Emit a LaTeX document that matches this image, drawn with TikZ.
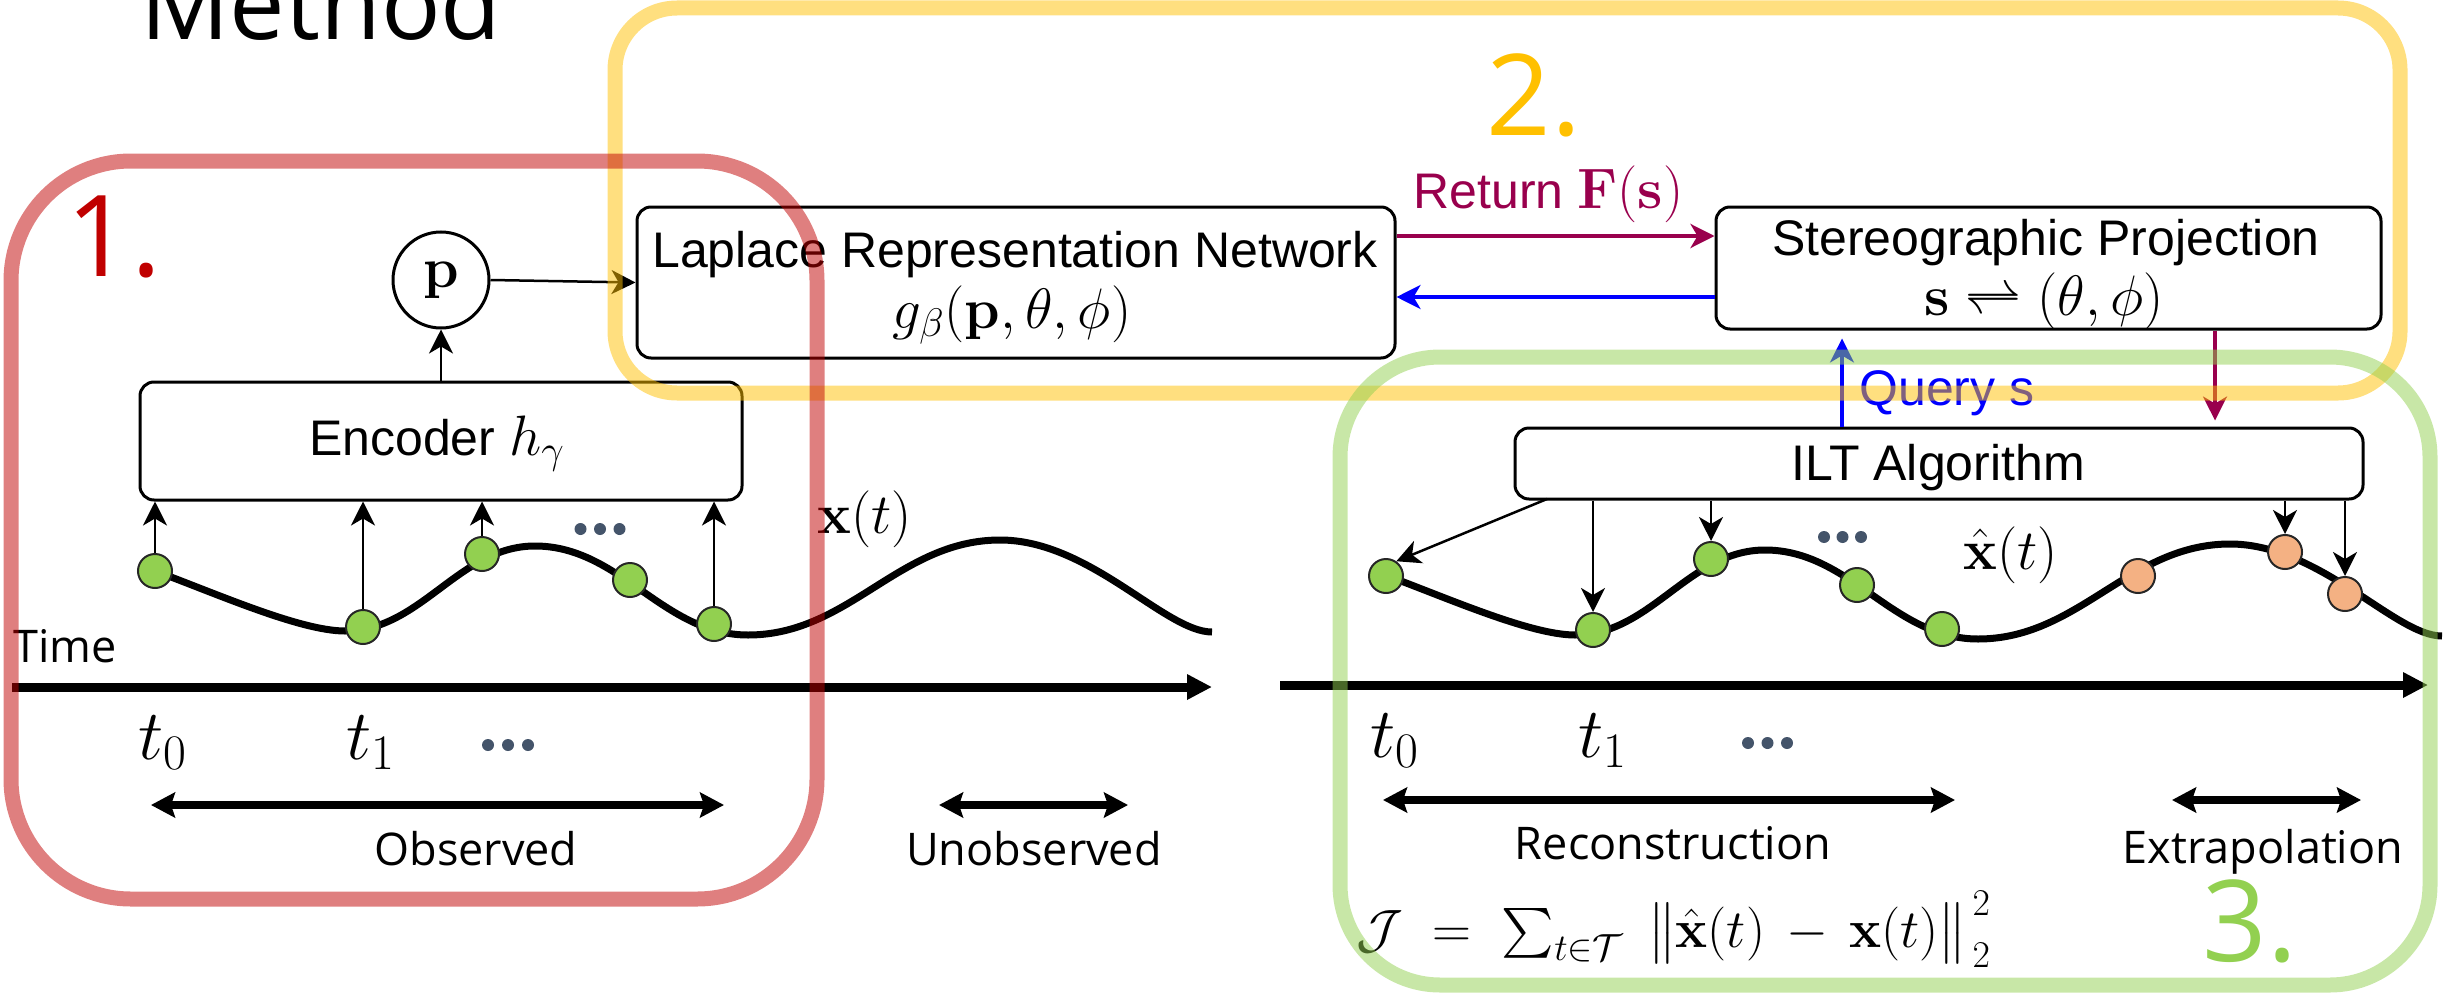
\documentclass[tikz,border=0pt]{standalone}
\usepackage{fix-cm}
\usepackage{amsmath}
\usepackage{exscale}
\usepackage[no-math]{fontspec}
\setmainfont{Liberation Sans}
\newfontfamily\osans{Open Sans}
\usetikzlibrary{arrows.meta,calc}
\definecolor{fr1}{RGB}{192,0,0}
\definecolor{fr2}{RGB}{255,192,0}
\definecolor{fr3}{RGB}{146,208,80}
\definecolor{maro}{RGB}{153,0,77}
\definecolor{doto}{RGB}{244,177,131}
\definecolor{slate}{RGB}{68,84,106}
\definecolor{qblue}{RGB}{0,0,255}
\begin{document}
\begin{tikzpicture}[x=0.5pt,y=-0.5pt,
  box/.style={draw, line width=1.5pt, rounded corners=7pt, inner sep=0pt},
  tx/.style={inner sep=0pt, font=\fontsize{25}{30}\selectfont},
  mt/.style={inner sep=0pt, font=\fontsize{28.5}{34}\selectfont},
  os/.style={inner sep=0pt, font=\osans\fontsize{22.5}{27}\selectfont},
  tk/.style={inner sep=0pt, font=\fontsize{35.5}{40}\selectfont},
  numlbl/.style={inner sep=0pt, font=\osans\fontsize{56.5}{60}\selectfont},
  tarrow/.style={line width=1.25pt, -{Stealth[length=12pt,width=12pt,inset=3.5pt]}},
  carrow/.style={line width=2pt, -{Stealth[length=12pt,width=12pt,inset=3.5pt]}},
  axisline/.style={line width=4.5pt, -{Triangle[length=12.5pt,width=12pt]}},
  dblarrow/.style={line width=3.8pt, {Stealth[length=12pt,width=12.5pt,inset=2pt]}-{Stealth[length=12pt,width=12.5pt,inset=2pt]}},
  wave/.style={line width=3.5pt},
  gdot/.style={circle, draw=black!85, line width=1pt, fill=fr3, minimum size=17pt, inner sep=0pt},
  odot/.style={circle, draw=black!85, line width=1pt, fill=doto, minimum size=17pt, inner sep=0pt},
  frame/.style={line width=7.5pt, draw opacity=0.5}
]
\useasboundingbox (0,0) rectangle (2445,995);

% title and section numbers
\node[inner sep=0pt, anchor=base west, font=\osans\fontsize{49.5}{55}\selectfont] (title) at (140,40) {Method};
\node[numlbl, anchor=base west, text=fr1] (n1) at (66,276) {1.};
\node[numlbl, anchor=base west, text=fr2] (n2) at (1486,135) {2.};
\node[numlbl, anchor=base west, text=fr3] (n3) at (2202,961) {3.};

% boxes
\node[box, minimum width=379pt, minimum height=75.5pt] (lap) at (1016,282.5) {};
\node[tx, anchor=base] (lapt) at (1015,267) {Laplace Representation Network};
\node[mt, anchor=base] (lapm) at (1012,328) {$g_\beta(\mathbf{p},\theta,\phi)$};

\node[box, minimum width=332.5pt, minimum height=61pt] (ste) at (2048.5,268) {};
\node[tx, anchor=base] (stet) at (2046,255) {Stereographic Projection};
\node[mt, anchor=base] (stem) at (2044,315) {$\mathbf{s}\rightleftharpoons(\theta,\phi)$};

\node[box, minimum width=424pt, minimum height=35.5pt] (ilt) at (1939,463.5) {};
\node[tx, anchor=base] (iltt) at (1938,480) {ILT Algorithm};

\node[box, minimum width=301pt, minimum height=59pt] (enc) at (441,441) {};
\node[anchor=base, inner sep=0pt] (enct) at (437,455) {\fontsize{25}{30}\selectfont Encoder {\fontsize{28.5}{34}\selectfont$h_\gamma$}};

\node[circle, draw, line width=1.5pt, minimum size=48pt, inner sep=0pt, font=\fontsize{28.5}{34}\selectfont] (p) at (441,280) {$\mathbf{p}$};

% arrows in the top part
\coordinate (ret) at (0,236);
\coordinate (qry) at (0,297);
\coordinate (qx) at (1842,0);
\coordinate (mx) at (2215,0);
\draw[tarrow] (enc.north) -- (p.south);
\draw[tarrow] (p.east) -- (lap.west);
\draw[carrow, draw=maro] (lap.east |- ret) -- (ste.west |- ret);
\draw[carrow, draw=qblue] (ste.west |- qry) -- (lap.east |- qry);
\draw[carrow, line width=1.6pt, draw=qblue, shorten >=4pt] (ilt.north -| qx) -- (ste.south -| qx);
\draw[carrow, line width=1.6pt, draw=maro, shorten >=3pt] (ste.south -| mx) -- (ilt.north -| mx);
\node[anchor=base west, inner sep=0pt, text=maro] (retl) at (1413,208) {\fontsize{25}{30}\selectfont Return {\fontsize{28.5}{34}\selectfont$\mathbf{F}(\mathbf{s})$}};
\node[tx, anchor=base west, text=qblue] (qryl) at (1859,405) {Query s};

% left time series
\draw[wave] (155,571) .. controls (215,593) and (300,631) .. (345,631)
  .. controls (421,631) and (459,546) .. (535,546)
  .. controls (620,546) and (663,635) .. (748,635)
  .. controls (849,635) and (899,540) .. (1000,540)
  .. controls (1090,540) and (1165,632) .. (1212,632);
\node[gdot] (d1) at (155,571) {};
\node[gdot] (d2) at (363,627) {};
\node[gdot] (d3) at (482,554) {};
\node[gdot] (d4) at (630,580) {};
\node[gdot] (d5) at (714,624) {};
\draw[tarrow] (d1) -- (d1 |- enc.south);
\draw[tarrow] (d2) -- (d2 |- enc.south);
\draw[tarrow] (d3) -- (d3 |- enc.south);
\draw[tarrow] (d5) -- (d5 |- enc.south);
\fill[slate] (580.5,529) circle (3pt) (600,529) circle (3pt) (619.5,529) circle (3pt);
\node[mt, anchor=base west] (xl) at (817,533) {$\mathbf{x}(t)$};

\node[os, anchor=base west] (time) at (13,662) {Time};
\coordinate (la0) at (12,687);
\coordinate (la1) at (1212,687);
\draw[axisline] (la0) -- (la1);
\node[tk, anchor=base west] (lt0) at (138,759) {$t_0$};
\node[tk, anchor=base west] (lt1) at (346,759) {$t_1$};
\fill[slate] (488,745) circle (3pt) (508,745) circle (3pt) (528,745) circle (3pt);
\coordinate (ob0) at (151,805);
\coordinate (ob1) at (724,805);
\draw[dblarrow] (ob0) -- (ob1);
\node[os, anchor=base] (obs) at (476,865) {Observed};
\coordinate (un0) at (939,805);
\coordinate (un1) at (1128,805);
\draw[dblarrow] (un0) -- (un1);
\node[os, anchor=base] (unobs) at (1034,865) {Unobserved};

% right time series
\begin{scope}[xshift=615pt, yshift=-2pt]
\draw[wave] (155,571) .. controls (215,593) and (300,631) .. (345,631)
  .. controls (421,631) and (459,546) .. (535,546)
  .. controls (620,546) and (663,635) .. (748,635)
  .. controls (849,635) and (899,540) .. (1000,540)
  .. controls (1090,540) and (1165,632) .. (1212,632);
\end{scope}
\node[gdot] (r1) at (1386,576) {};
\node[gdot] (r2) at (1593,630) {};
\node[gdot] (r3) at (1711,559) {};
\node[gdot] (r4) at (1857,585) {};
\node[gdot] (r5) at (1942,629) {};
\node[odot] (o1) at (2138,576) {};
\node[odot] (o2) at (2285,552) {};
\node[odot] (o3) at (2345,594) {};
\coordinate (ia) at (1547,499);
\draw[tarrow] (ia) -- (r1.55);
\draw[tarrow] (ilt.south -| r2) -- (r2);
\draw[tarrow] (ilt.south -| r3) -- (r3);
\draw[tarrow] (ilt.south -| o2) -- (o2);
\draw[tarrow] (ilt.south -| o3) -- (o3);
\fill[slate] (1824,537) circle (3pt) (1842.5,537) circle (3pt) (1861,537) circle (3pt);
\node[mt, anchor=base west] (xh) at (1963,569) {$\hat{\mathbf{x}}(t)$};

\coordinate (ra0) at (1280,685);
\coordinate (ra1) at (2428,685);
\draw[axisline] (ra0) -- (ra1);
\node[tk, anchor=base west] (rt0) at (1370,757) {$t_0$};
\node[tk, anchor=base west] (rt1) at (1578,757) {$t_1$};
\fill[slate] (1748,743) circle (3pt) (1767.5,743) circle (3pt) (1787,743) circle (3pt);
\coordinate (re0) at (1383,800);
\coordinate (re1) at (1955,800);
\draw[dblarrow] (re0) -- (re1);
\node[os, anchor=base] (rec) at (1673,859) {Reconstruction};
\coordinate (ex0) at (2172,800);
\coordinate (ex1) at (2361,800);
\draw[dblarrow] (ex0) -- (ex1);
\node[os, anchor=base] (extra) at (2263,863) {Extrapolation};
\node[inner sep=0pt, anchor=base west, font=\fontsize{27}{31}\selectfont] (loss) at (1356,947)
  {$\mathcal{J}\;=\;\textstyle\sum_{t\in\mathcal{T}}\;\big\|\hat{\mathbf{x}}(t)\,-\,\mathbf{x}(t)\big\|^{\,2}_{\,2}$};

% section frames
\draw[frame, draw=fr2, rounded corners=31pt] (615,8) rectangle (2400,393);
\draw[frame, draw=fr1, rounded corners=60pt] (11,161) rectangle (817,899);
\draw[frame, draw=fr3, rounded corners=50pt] (1340,357) rectangle (2430,985);
\end{tikzpicture}
\end{document}
